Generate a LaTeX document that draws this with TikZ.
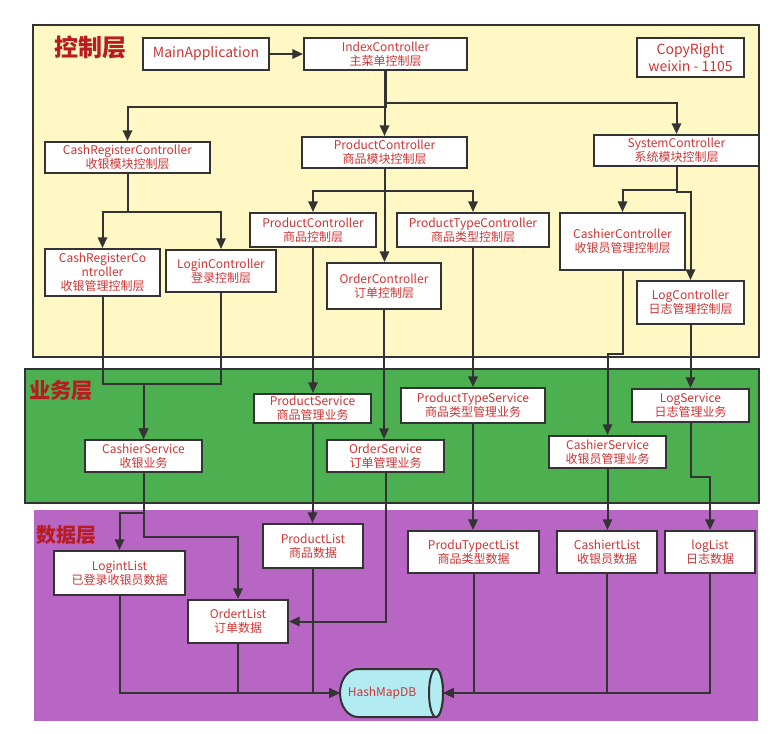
\documentclass[tikz,border=0pt]{standalone}
\usepackage{fontspec}
\setmainfont{Noto Sans CJK SC}
\usetikzlibrary{arrows.meta}
\definecolor{txt}{RGB}{208,52,52}
\definecolor{ttl}{RGB}{185,28,32}
\definecolor{edge}{RGB}{51,51,51}
\definecolor{ylw}{RGB}{255,248,196}
\definecolor{grn}{RGB}{76,175,80}
\definecolor{prp}{RGB}{184,102,196}
\definecolor{cyl}{RGB}{178,235,242}
\begin{document}
\begin{tikzpicture}[x=0.75pt,y=-0.75pt,
 box/.style={draw=edge, line width=1.5pt, fill=white, text=txt, align=center, inner sep=1pt, font=\fontsize{9}{10.5}\selectfont},
 sz/.style 2 args={minimum width=#1*0.75pt, minimum height=#2*0.75pt},
 conn/.style={draw=edge, line width=1.5pt, -{Triangle[length=8pt,width=7pt]}},
 layer/.style={draw=edge, line width=1.5pt},
 title/.style={text=ttl, inner sep=0pt}]
\useasboundingbox (0,0) rectangle (784,734);
% layers
\draw[layer, fill=ylw] (33,25) rectangle (759,357);
\draw[layer, fill=grn] (25,369) rectangle (759,503);
\fill[prp] (34,510) rectangle (758,721);
\node[title, font=\fontsize{18}{20}\selectfont\bfseries] (t1) at (90,47) {控制层};
\node[title, font=\fontsize{16}{18}\selectfont\bfseries] (t2) at (61,391) {业务层};
\node[title, font=\fontsize{15}{17}\selectfont\bfseries] (t3) at (66,535) {数据层};
% control layer
\node[box, sz={126}{32}, font=\fontsize{10.5}{12}\selectfont] (main) at (206,54) {MainApplication};
\node[box, sz={163}{32}] (index) at (385.5,54) {IndexController\\主菜单控制层};
\node[box, sz={107}{39}, font=\fontsize{10.5}{12.5}\selectfont] (copy) at (690.5,57.5) {CopyRight\\weixin - 1105};
\node[box, sz={165}{31}] (crmod) at (127.5,157.5) {CashRegisterController\\收银模块控制层};
\node[box, sz={165}{31}] (pmod) at (384.5,152.5) {ProductController\\商品模块控制层};
\node[box, sz={165}{31}] (smod) at (676.5,150.5) {SystemController\\系统模块控制层};
\node[box, sz={115}{47}] (crc) at (102.5,272.5) {CashRegisterCo\\ntroller\\收银管理控制层};
\node[box, sz={110}{42}] (login) at (221,271) {LoginController\\登录控制层};
\node[box, sz={126}{34}] (pc) at (313,230) {ProductController\\商品控制层};
\node[box, sz={152}{34}] (ptc) at (473,230) {ProductTypeController\\商品类型控制层};
\node[box, sz={114}{46}] (oc) at (384,286) {OrderController\\订单控制层};
\node[box, sz={125}{57}] (cc) at (622.5,241.5) {CashierController\\收银员管理控制层};
\node[box, sz={107}{43}] (lc) at (690.5,302.5) {LogController\\日志管理控制层};
% service layer
\node[box, sz={117}{32}] (cs1) at (143.5,456) {CashierService\\收银业务};
\node[box, sz={117}{29}] (ps) at (312.5,408.5) {ProductService\\商品管理业务};
\node[box, sz={117}{32}] (os) at (385.5,456) {OrderService\\订单管理业务};
\node[box, sz={144}{35}] (pts) at (473,405.5) {ProductTypeService\\商品类型管理业务};
\node[box, sz={117}{32}] (cs2) at (607.5,452) {CashierService\\收银员管理业务};
\node[box, sz={117}{33}] (ls) at (690.5,405.5) {LogService\\日志管理业务};
% data layer
\node[box, sz={131}{44}] (ll) at (119.5,573) {LogintList\\已登录收银员数据};
\node[box, sz={100}{44}] (pl) at (313,546) {ProductList\\商品数据};
\node[box, sz={100}{43}] (ol) at (238,621.5) {OrdertList\\订单数据};
\node[box, sz={131}{42}] (ptl) at (473.5,552) {ProduTypectList\\商品类型数据};
\node[box, sz={100}{42}] (cl) at (607,552) {CashiertList\\收银员数据};
\node[box, sz={90}{42}] (lgl) at (710,552) {logList\\日志数据};
% database cylinder (horizontal)
\node[sz={103}{48}, inner sep=0pt] (db) at (391.5,693) {};
\draw[draw=edge, line width=1.5pt, fill=cyl]
  (358,669) -- (436,669) arc[start angle=90, end angle=-90, x radius=5.25pt, y radius=18pt]
  -- (358,717) arc[start angle=270, end angle=90, x radius=13.5pt, y radius=18pt] -- cycle;
\draw[draw=edge, line width=1.5pt, fill=cyl] (436,693) ellipse[x radius=5.25pt, y radius=18pt];
\node[text=txt, font=\fontsize{9}{10.5}\selectfont, inner sep=0pt] (dbt) at (382,693) {HashMapDB};
% connectors
\draw[conn] (main) -- (index);
\draw[conn] (index.south) -- ++(0,36) -| (crmod.north);
\draw[conn] (pmod.north |- index.south) -- (pmod.north);
\draw[conn] (index.south) -- ++(0,32) -| (smod.north);
\draw[conn] (crmod.south) -- ++(0,38) -| (crc.north);
\draw[conn] (crmod.south) -- ++(0,38) -| (login.north);
\draw[conn] (pmod.south) -- ++(0,22) -| (pc.north);
\draw[conn] (pmod.south) -- ++(0,22) -| (ptc.north);
\draw[conn] (pmod.south) -- (pmod.south |- oc.north);
\draw[conn] (smod.south) -- ++(0,23) -| (cc.north);
\draw[conn] (smod.south) -- ++(0,25) -| (lc.north);
\coordinate (j1) at (143.5,384);
\draw[conn] (crc.south) |- (j1) -- (cs1.north);
\draw[conn] (login.south) |- (j1) -- (cs1.north);
\draw[conn] (pc.south) -- (pc.south |- ps.north);
\draw[conn] (oc.south) -- (oc.south |- os.north);
\draw[conn] (ptc.south) -- (ptc.south |- pts.north);
\draw[conn] (cc.south) -- ++(0,83) -| (cs2.north);
\draw[conn] (lc.south) -- (lc.south |- ls.north);
\draw[conn] (cs1.south) -- ++(0,40) -| (ll.north);
\draw[conn] (cs1.south) -- ++(0,64) -| (ol.north);
\draw[conn] (ps.south) -- (ps.south |- pl.north);
\draw[conn] (os.south) |- (ol.east);
\draw[conn] (pts.south) -- (pts.south |- ptl.north);
\draw[conn] (cs2.south) -- (cs2.south |- cl.north);
\draw[conn] (ls.south) -- ++(0,54) -| (lgl.north);
\draw[conn] (ll.south) |- (db.west);
\draw[conn] (ol.south) |- (db.west);
\draw[conn] (pl.south) |- (db.west);
\draw[conn] (lgl.south) |- (db.east);
\draw[conn] (cl.south) |- (db.east);
\draw[conn] (ptl.south) |- (db.east);
\end{tikzpicture}
\end{document}
